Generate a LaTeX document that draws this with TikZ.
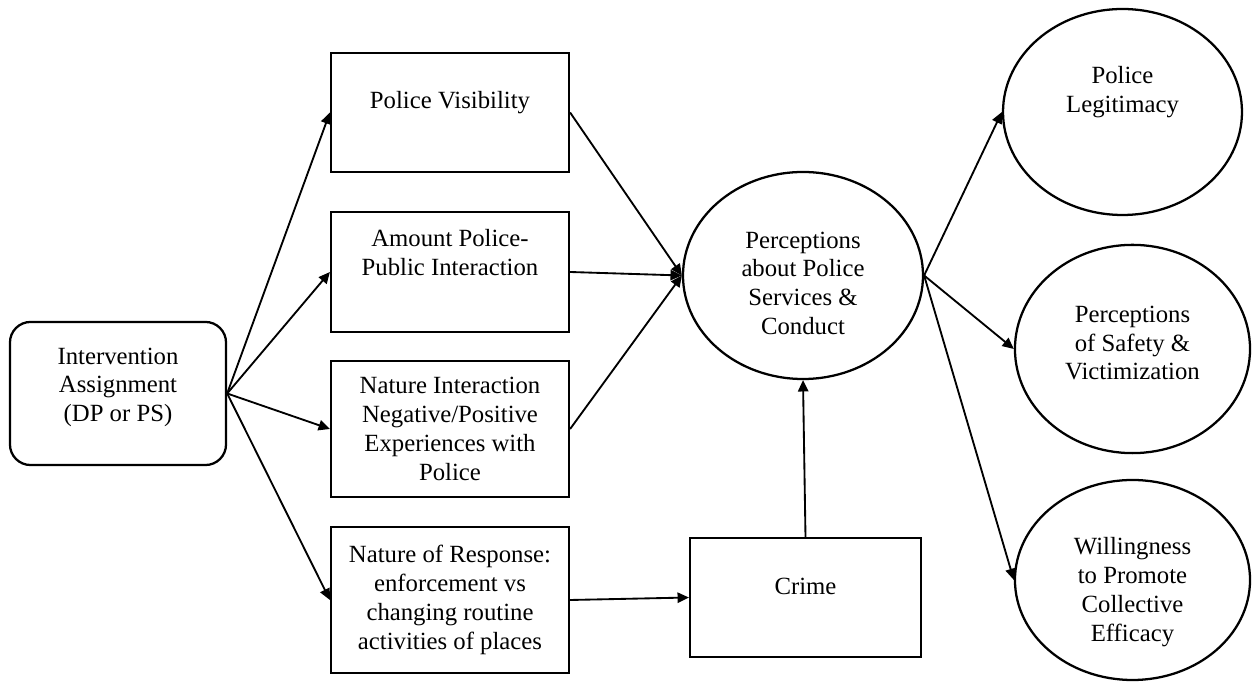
\documentclass[tikz,border=0pt]{standalone}
\usepackage{fontspec}
\setmainfont{Liberation Serif}
\usetikzlibrary{arrows.meta,shapes.geometric}

\begin{document}
\begin{tikzpicture}[x=0.485pt, y=-0.485pt,
        every node/.style={font=\fontsize{12}{14}\selectfont},
        box/.style={draw, line width=1.1pt, rectangle, minimum width=115.4pt},
        ovl/.style={draw, line width=1.1pt, ellipse, inner sep=0pt},
        txt/.style={align=center},
        arr/.style={-{Triangle[length=5.5pt,width=5pt]}, line width=0.9pt}]
    \useasboundingbox (0,0) rectangle (1253,685);
    % assignment
    \node[box, rounded corners=10pt, minimum width=104.8pt, minimum height=69.4pt,
        label={[txt, yshift=3pt]center:Intervention\\Assignment\\(DP or PS)}] (ia) at (118,393.5) {};
    % mechanisms
    \node[box, minimum height=57.7pt,
        label={[txt, yshift=5pt]center:Police Visibility}] (pv) at (450,112.5) {};
    \node[box, minimum height=58.2pt,
        label={[txt, yshift=9.5pt]center:Amount Police-\\Public Interaction}] (ap) at (450,272) {};
    \node[box, minimum height=66pt,
        label={[txt]center:Nature Interaction\\Negative/Positive\\Experiences with\\Police}] (ni) at (450,429) {};
    \node[box, minimum height=70.8pt,
        label={[txt]center:Nature of Response:\\enforcement vs\\changing routine\\activities of places}] (nr) at (450,600) {};
    \node[box, minimum width=112pt, minimum height=57.7pt,
        label={[txt, yshift=5.5pt]center:Crime}] (cr) at (805.5,597.5) {};
    % outcomes
    \node[ovl, minimum width=116.4pt, minimum height=100.4pt,
        label={[txt, yshift=-3.8pt]center:Perceptions\\about Police\\Services \&\\Conduct}] (pc) at (803,275.5) {};
    \node[ovl, minimum width=115.9pt, minimum height=99.9pt,
        label={[txt, yshift=9.5pt]center:Police\\Legitimacy}] (pl) at (1122.5,112) {};
    \node[ovl, minimum width=114pt, minimum height=101pt,
        label={[txt, yshift=2.9pt]center:Perceptions\\of Safety \&\\Victimization}] (ps) at (1132.5,349) {};
    \node[ovl, minimum width=114pt, minimum height=97pt,
        label={[txt, yshift=-5.8pt]center:Willingness\\to Promote\\Collective\\Efficacy}] (wp) at (1132.5,580) {};
    % connectors
    \foreach \m in {pv,ap,ni,nr}
        \draw[arr] (ia.east) -- (\m.west);
    \foreach \m in {pv,ap,ni}
        \draw[arr] (\m.east) -- (pc.west);
    \draw[arr] (nr.east) -- (cr.west);
    \draw[arr] (cr.north) -- (pc.south);
    \foreach \o in {pl,ps,wp}
        \draw[arr] (pc.east) -- (\o.west);
\end{tikzpicture}
\end{document}
